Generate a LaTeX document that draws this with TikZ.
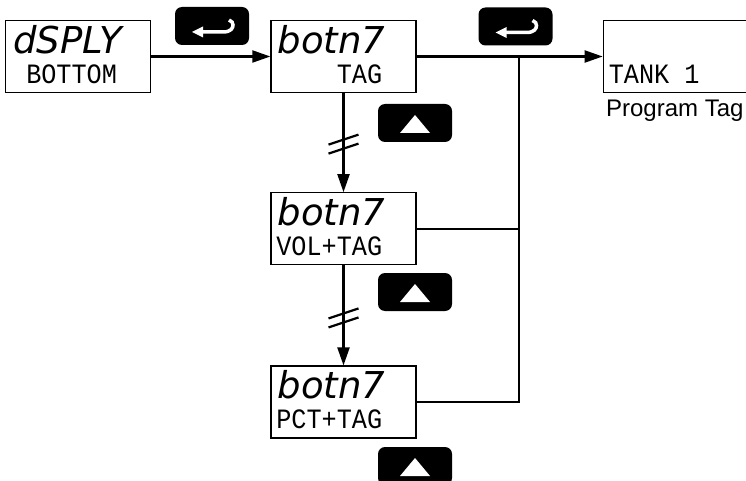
\documentclass[tikz,border=0pt]{standalone}
\usepackage{fontspec}
\setmainfont{Liberation Sans}
\newfontfamily\segbig{DejaVu Sans}
\newfontfamily\segsmall[FakeStretch=0.9]{Liberation Mono}
\usetikzlibrary{arrows.meta,positioning,calc}

\tikzset{
  brk/.pic={\draw[line width=2.2pt] (-15,0) -- (15,-10) (-15,9) -- (15,-1);},
  entglyph/.pic={
    \draw[white, line width=3.5pt] (-10,6) -- (11,6) .. controls (19,6) and (21,2) .. (21,-1) .. controls (21,-3) and (20,-5) .. (17,-6);
    \fill[white] (-20,6) -- (-9,0.5) -- (-9,11.5) -- cycle;
  },
  upglyph/.pic={\fill[white] (0,-8) -- (15,10) -- (-15,10) -- cycle;}
}

\begin{document}
\begin{tikzpicture}[x=1pt, y=-1pt, >={Triangle[length=18pt,width=12pt]},
  lcdbox/.style={draw, line width=1.3pt, minimum width=145pt, minimum height=72pt, inner sep=0pt},
  keybtn/.style={fill=black, rounded corners=7pt, minimum width=74pt, minimum height=38pt, inner sep=0pt},
  bigtxt/.style={font=\segbig\itshape\fontsize{37}{37}\selectfont, inner sep=0pt, text depth=0pt},
  smalltxt/.style={font=\segsmall\fontsize{28}{28}\selectfont, inner sep=0pt, text height=20pt},
  flow/.style={line width=2.1pt}]
\useasboundingbox (0,0) rectangle (746,481);
\clip (0,0) rectangle (746,481);

% displays
\node[lcdbox] (tag) at (343.5,56.5) {};
\node[lcdbox, left=119pt of tag] (dsply) {};
\node[lcdbox, minimum width=143pt, right=186pt of tag] (tank) {};
\node[lcdbox, below=99pt of tag] (vol) {};
\node[lcdbox, below=100pt of vol] (pct) {};

\node[bigtxt, anchor=base west] (dsplyup) at ([xshift=8pt, yshift=-34pt]dsply.north west) {dSPLY};
\node[smalltxt, anchor=base west] (dsplylo) at ([xshift=21pt, yshift=-64pt]dsply.north west) {BOTTOM};
\node[bigtxt, anchor=base west] (tagup) at ([xshift=7pt, yshift=-33.5pt]tag.north west) {botn7};
\node[smalltxt, anchor=base east] (taglo) at ([xshift=112pt, yshift=-63.5pt]tag.north west) {TAG};
\node[bigtxt, anchor=base west] (volup) at ([xshift=7pt, yshift=-33.5pt]vol.north west) {botn7};
\node[smalltxt, anchor=base east] (vollo) at ([xshift=112pt, yshift=-63.5pt]vol.north west) {VOL+TAG};
\node[bigtxt, anchor=base west] (pctup) at ([xshift=7pt, yshift=-33.5pt]pct.north west) {botn7};
\node[smalltxt, anchor=base east] (pctlo) at ([xshift=112pt, yshift=-63.5pt]pct.north west) {PCT+TAG};
\node[smalltxt, anchor=base west] (tanklo) at ([xshift=6pt, yshift=-63.5pt]tank.north west) {TANK 1};
\node[font=\fontsize{24}{24}\selectfont, inner sep=0pt, below=7pt of tank] (progtag) {Program Tag};

% buttons
\node[keybtn] (ent1) at (212,26) {};
\node[keybtn] (ent2) at (515.5,26.5) {};
\node[keybtn] (up1) at (415,123) {};
\node[keybtn] (up2) at (415,292) {};
\node[keybtn] (up3) at (415,466) {};
\pic at (ent1) {entglyph};
\pic at (ent2) {entglyph};
\pic at (up1) {upglyph};
\pic at (up2) {upglyph};
\pic at (up3) {upglyph};

% connectors
\coordinate (jtop) at ([xshift=102pt]tag.east);
\coordinate (jbot) at (jtop |- pct.east);
\draw[flow,->] (dsply) -- (tag);
\draw[flow,->] (tag) -- (tank);
\draw[flow] (pct.east) -- (jbot) -- (jtop);
\draw[flow] (vol.east) -- (vol.east -| jtop);
\draw[flow,->] (tag) -- (vol);
\draw[flow,->] (vol) -- (pct);
\pic at ($(tag.south)!0.52!(vol.north)$) {brk};
\pic at ($(vol.south)!0.53!(pct.north)$) {brk};
\end{tikzpicture}
\end{document}
